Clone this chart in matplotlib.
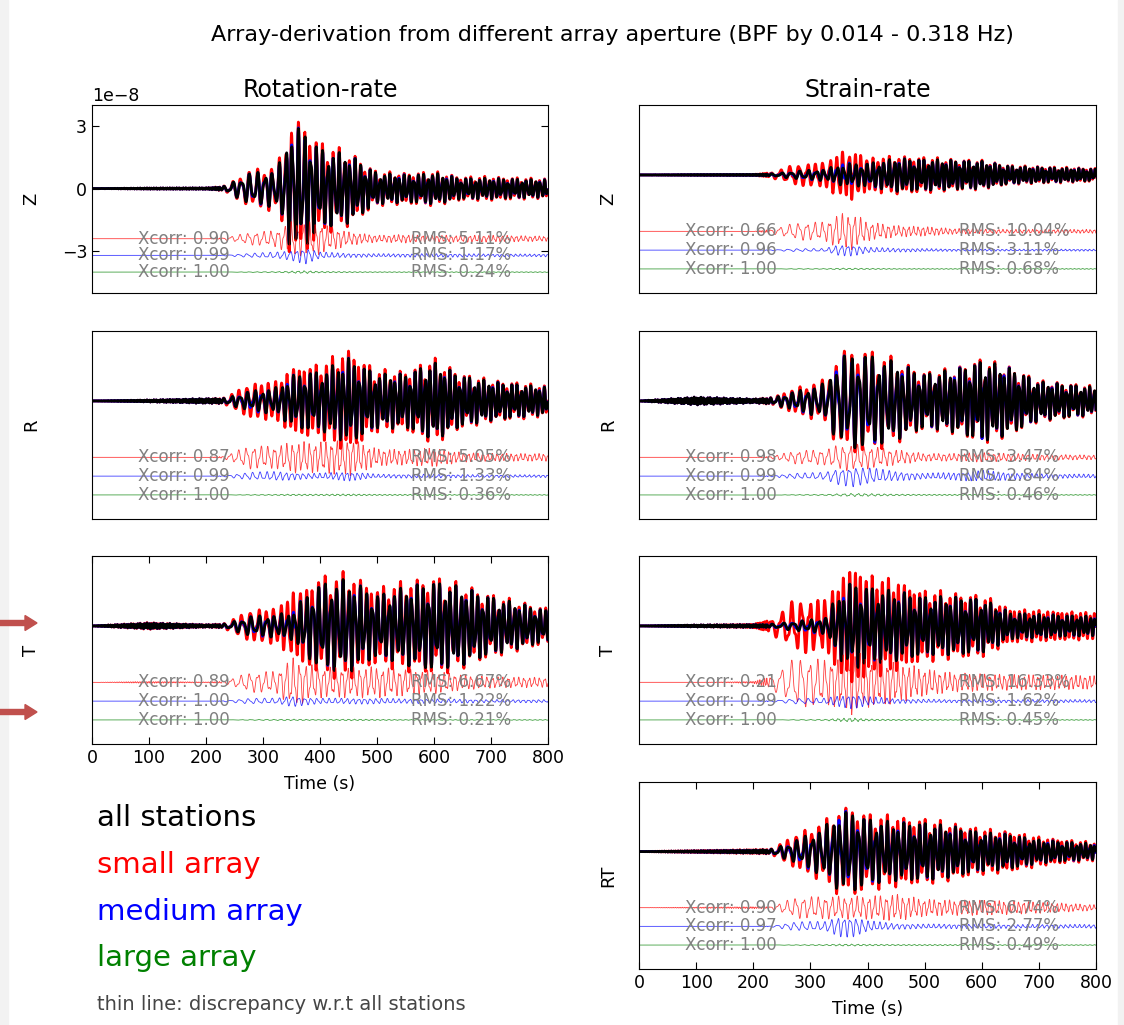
import numpy as np
import matplotlib.pyplot as plt
from matplotlib.patches import Rectangle, FancyArrow

# time axis (s)
t = np.arange(0, 800.5, 0.5)

# envelope knots (s) and dominant period knots (s)
T_KNOTS = [0, 100, 200, 230, 275, 325, 350, 375, 400, 450, 500, 550, 600, 650, 700, 800]
P_KNOTS = [0, 225, 235, 350, 500, 800]

# envelopes, in units of the gap between the thin lines
# Rotation-rate Z
rot_z_all = [0, 0.03, 0.04, 0.1, 0.9, 1.1, 3.6, 3.4, 2.3, 2.0, 0.9, 0.8, 0.9, 0.6, 0.6, 0.5]
rot_z_small = [0, 0, 0, 0.05, 0.35, 0.5, 1.0, 1.0, 0.9, 0.4, 0.2, 0.25, 0.2, 0.2, 0.2, 0.15]
rot_z_medium = [0, 0, 0, 0.02, 0.12, 0.2, 0.3, 0.5, 0.2, 0.12, 0.1, 0.1, 0.1, 0.1, 0.08, 0.08]
rot_z_large = [0, 0, 0, 0, 0.02, 0.03, 0.06, 0.08, 0.04, 0.03, 0.02, 0.02, 0.02, 0.02, 0.02, 0.02]
rot_z_period = [4, 4, 16, 11, 8.5, 8]
# Rotation-rate R
rot_r_all = [0, 0.05, 0.12, 0.12, 0.5, 0.7, 1.3, 1.5, 1.5, 2.2, 1.4, 1.4, 2.0, 1.3, 1.0, 0.7]
rot_r_small = [0, 0, 0, 0.05, 0.6, 0.6, 0.8, 0.8, 0.8, 1.0, 0.45, 0.4, 0.5, 0.25, 0.2, 0.2]
rot_r_medium = [0, 0, 0, 0.02, 0.2, 0.25, 0.2, 0.15, 0.15, 0.25, 0.1, 0.1, 0.1, 0.08, 0.07, 0.07]
rot_r_large = [0, 0, 0, 0, 0.02, 0.03, 0.04, 0.04, 0.04, 0.05, 0.03, 0.03, 0.03, 0.02, 0.02, 0.02]
rot_r_period = [4, 4, 15, 10, 9, 8]
# Rotation-rate T
rot_t_all = [0, 0.15, 0.06, 0.08, 0.5, 0.6, 0.7, 1.6, 2.2, 2.4, 1.6, 2.0, 2.3, 2.0, 1.5, 0.8]
rot_t_small = [0, 0.05, 0.02, 0.05, 0.5, 0.6, 1.3, 1.0, 0.8, 0.8, 0.8, 0.7, 0.6, 0.4, 0.3, 0.25]
rot_t_medium = [0, 0, 0, 0.02, 0.15, 0.15, 0.3, 0.2, 0.15, 0.15, 0.15, 0.12, 0.12, 0.1, 0.08, 0.08]
rot_t_large = [0, 0, 0, 0, 0.02, 0.03, 0.04, 0.03, 0.02, 0.04, 0.03, 0.02, 0.02, 0.02, 0.02, 0.02]
rot_t_period = [4, 4, 17, 11, 10, 9]
# Strain-rate Z
str_z_all = [0, 0.02, 0.03, 0.05, 0.2, 0.3, 0.5, 0.6, 0.6, 0.85, 0.8, 0.75, 0.7, 0.45, 0.4, 0.3]
str_z_small = [0, 0, 0, 0.1, 0.45, 0.5, 0.9, 0.95, 0.5, 0.3, 0.25, 0.15, 0.12, 0.1, 0.1, 0.1]
str_z_medium = [0, 0, 0, 0.02, 0.08, 0.08, 0.3, 0.3, 0.15, 0.1, 0.08, 0.06, 0.05, 0.05, 0.05, 0.05]
str_z_large = [0, 0, 0, 0, 0.02, 0.02, 0.04, 0.04, 0.03, 0.02, 0.02, 0.02, 0.02, 0.02, 0.02, 0.02]
str_z_period = [4, 4, 18, 11, 8, 7]
# Strain-rate R
str_r_all = [0, 0.2, 0.1, 0.15, 0.5, 0.9, 2.2, 2.5, 2.4, 2.0, 1.4, 1.6, 2.1, 1.7, 1.0, 0.7]
str_r_small = [0, 0, 0, 0.05, 0.35, 0.4, 0.65, 0.7, 0.6, 0.4, 0.2, 0.2, 0.25, 0.2, 0.15, 0.12]
str_r_medium = [0, 0, 0, 0.03, 0.15, 0.2, 0.45, 0.55, 0.45, 0.25, 0.15, 0.2, 0.3, 0.2, 0.12, 0.1]
str_r_large = [0, 0, 0, 0, 0.02, 0.03, 0.06, 0.08, 0.07, 0.04, 0.03, 0.03, 0.03, 0.02, 0.02, 0.02]
str_r_period = [4, 4, 13, 13, 9, 8]
# Strain-rate T
str_t_all = [0, 0.05, 0.07, 0.08, 0.25, 0.4, 1.7, 2.3, 2.0, 1.8, 1.5, 1.5, 1.4, 0.7, 0.6, 0.5]
str_t_small = [0, 0, 0.05, 0.3, 1.3, 1.2, 1.3, 1.7, 1.3, 1.1, 0.7, 0.5, 0.45, 0.4, 0.4, 0.35]
str_t_medium = [0, 0, 0, 0.03, 0.15, 0.15, 0.3, 0.4, 0.25, 0.12, 0.1, 0.08, 0.08, 0.08, 0.08, 0.08]
str_t_large = [0, 0, 0, 0, 0.02, 0.03, 0.08, 0.1, 0.05, 0.03, 0.03, 0.02, 0.02, 0.02, 0.02, 0.02]
str_t_period = [4, 4, 20, 10, 9, 8]
# Strain-rate RT
str_rt_all = [0, 0.04, 0.08, 0.1, 0.6, 1.3, 2.0, 2.1, 1.7, 1.5, 1.5, 1.3, 1.0, 0.9, 0.6, 0.4]
str_rt_small = [0, 0.03, 0.05, 0.05, 0.55, 0.6, 0.6, 0.6, 0.6, 0.7, 0.45, 0.4, 0.4, 0.35, 0.3, 0.15]
str_rt_medium = [0, 0, 0, 0.02, 0.25, 0.25, 0.55, 0.55, 0.3, 0.15, 0.12, 0.12, 0.12, 0.1, 0.1, 0.1]
str_rt_large = [0, 0, 0, 0, 0.02, 0.03, 0.05, 0.05, 0.04, 0.03, 0.03, 0.03, 0.03, 0.02, 0.02, 0.02]
str_rt_period = [4, 4, 16, 11, 9, 8]

# labels
xcorr = {
    'rot_z': [0.90, 0.99, 1.00], 'rot_r': [0.87, 0.99, 1.00], 'rot_t': [0.89, 1.00, 1.00],
    'str_z': [0.66, 0.96, 1.00], 'str_r': [0.98, 0.99, 1.00], 'str_t': [0.21, 0.99, 1.00],
    'str_rt': [0.90, 0.97, 1.00],
}
rms = {
    'rot_z': [5.11, 1.17, 0.24], 'rot_r': [5.05, 1.33, 0.36], 'rot_t': [6.67, 1.22, 0.21],
    'str_z': [10.04, 3.11, 0.68], 'str_r': [3.47, 2.84, 0.46], 'str_t': [16.33, 1.62, 0.45],
    'str_rt': [6.74, 2.77, 0.49],
}

panels = [
    ('rot_z', 'Z', rot_z_all, rot_z_small, rot_z_medium, rot_z_large, rot_z_period),
    ('rot_r', 'R', rot_r_all, rot_r_small, rot_r_medium, rot_r_large, rot_r_period),
    ('rot_t', 'T', rot_t_all, rot_t_small, rot_t_medium, rot_t_large, rot_t_period),
    ('str_z', 'Z', str_z_all, str_z_small, str_z_medium, str_z_large, str_z_period),
    ('str_r', 'R', str_r_all, str_r_small, str_r_medium, str_r_large, str_r_period),
    ('str_t', 'T', str_t_all, str_t_small, str_t_medium, str_t_large, str_t_period),
    ('str_rt', 'RT', str_rt_all, str_rt_small, str_rt_medium, str_rt_large, str_rt_period),
]


def wave(env, period, shift, harm):
    amp = np.interp(t, T_KNOTS, env)
    per = np.interp(t, P_KNOTS, period)
    phase = 2 * np.pi * np.cumsum(0.5 / per)
    return amp * (0.8 * np.sin(phase + shift) + 0.3 * np.sin(harm * phase + 2 * shift)) / 1.05


W, H = 1124, 1025
fig = plt.figure(figsize=(W / 100, H / 100), dpi=100)
fig.patch.set_facecolor('white')
fig.patches.append(Rectangle((0, 0), 8 / W, 1, transform=fig.transFigure, color='#f2f2f2', zorder=0))
fig.patches.append(Rectangle((1118 / W, 0), 6 / W, 1, transform=fig.transFigure, color='#f2f2f2', zorder=0))

# axes boxes in pixels: left, top, right, bottom
boxes = {
    'rot_z': (92, 105, 548, 293), 'rot_r': (92, 331, 548, 519), 'rot_t': (92, 556, 548, 744),
    'str_z': (639, 105, 1096, 293), 'str_r': (639, 331, 1096, 519), 'str_t': (639, 556, 1096, 744),
    'str_rt': (639, 782, 1096, 969),
}
offsets = [-3, -4, -5]
colors = ['r', 'b', 'g']

axes = {}
for key, comp, a_all, a_small, a_med, a_large, period in panels:
    l, tp, r, b = boxes[key]
    ax = fig.add_axes([l / W, 1 - b / H, (r - l) / W, (b - tp) / H])
    axes[key] = ax
    # left Z panel carries physical units
    if key == 'rot_z':
        u = 0.8e-8
        ylim = (-6.25, 5)
    else:
        u = 1.0
        ylim = (-6.28, 3.72)

    black = wave(a_all, period, 0.0, 1.7)
    diffs = [wave(a_small, period, 1.1, 2.3),
             wave(a_med, period, 2.0, 1.9),
             wave(a_large, period, 0.4, 2.6)]

    ax.plot(t, (black + diffs[0]) * u, color='r', lw=2)
    ax.plot(t, (black + diffs[1]) * u, color='b', lw=2)
    ax.plot(t, black * u, color='k', lw=2)
    for d, off, c in zip(diffs, offsets, colors):
        ax.plot(t, (off + d) * u, color=c, lw=0.6, alpha=0.75)
    for i, off in enumerate(offsets):
        ax.text(80, off * u, 'Xcorr: %.2f' % xcorr[key][i], color='0.5', fontsize=12,
                va='center', zorder=5)
        ax.text(560, off * u, 'RMS: %.2f%%' % rms[key][i], color='0.5', fontsize=12,
                va='center', zorder=5)

    ax.set_xlim(0, 800)
    ax.set_ylim(ylim[0] * u, ylim[1] * u)
    ax.tick_params(direction='in', top=True, right=True, labelsize=12.5, length=5)
    ax.set_ylabel(comp, fontsize=13)
    if key.startswith('rot'):
        ax.yaxis.set_label_coords(-0.114, 0.5)
    else:
        ax.yaxis.set_label_coords(-0.048, 0.5)
    if key == 'rot_z':
        ax.set_yticks([-3e-8, 0, 3e-8])
        ax.yaxis.get_offset_text().set_fontsize(12.5)
    else:
        ax.set_yticks([])
    if key in ('rot_t', 'str_rt'):
        ax.set_xticks(range(0, 801, 100))
        ax.set_xlabel('Time (s)', fontsize=12.5, labelpad=6)
    else:
        ax.set_xticks([])

axes['rot_z'].set_title('Rotation-rate', fontsize=17, pad=6)
axes['str_z'].set_title('Strain-rate', fontsize=17, pad=6)

fig.text(612 / W, 1 - 35 / H, 'Array-derivation from different array aperture (BPF by 0.014 - 0.318 Hz)',
         ha='center', va='center', fontsize=16)

# legend as coloured text
legend_text = ['all stations', 'small array', 'medium array', 'large array']
legend_color = ['k', 'r', 'b', 'g']
legend_y = [818, 865, 912, 958]
for txt, c, y in zip(legend_text, legend_color, legend_y):
    fig.text(97 / W, 1 - y / H, txt, color=c, fontsize=21, va='center', ha='left')
fig.text(97 / W, 1 - 1005 / H, 'thin line: discrepancy w.r.t all stations', color='0.27',
         fontsize=14, va='center', ha='left')

# marker arrows on the left edge
for y in [623, 712]:
    fig.patches.append(FancyArrow(0, (H - y) / 100, 0.37, 0, width=0.05, head_width=0.15,
                                  head_length=0.12, length_includes_head=True,
                                  transform=fig.dpi_scale_trans, color='#c0504d', zorder=3))

plt.savefig('out.png', dpi=100)
